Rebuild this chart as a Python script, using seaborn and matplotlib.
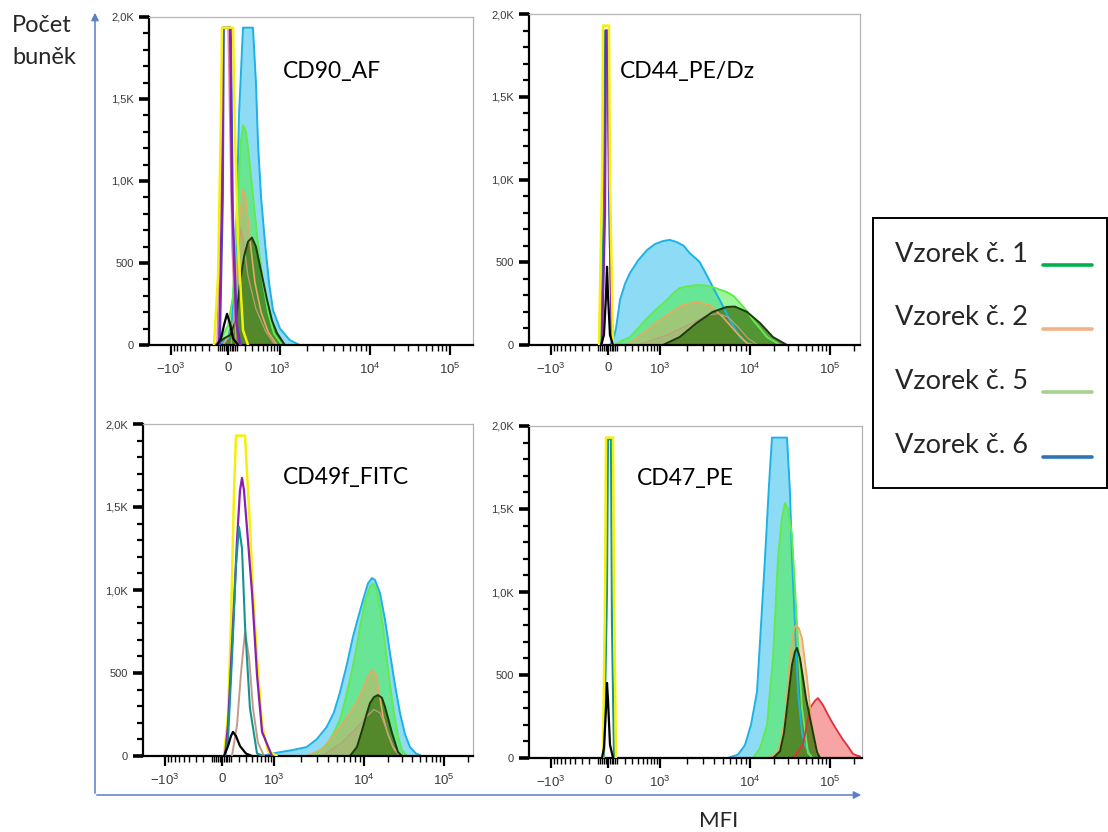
import numpy as np
import matplotlib
matplotlib.use("Agg")
import matplotlib.pyplot as plt
import seaborn as sns
from matplotlib.patches import Rectangle, FancyArrowPatch
from matplotlib.lines import Line2D
from matplotlib.ticker import FixedLocator, FixedFormatter

# ------------------------------------------------------------------ data
PANEL_TITLES = ["CD90_AF", "CD44_PE/Dz", "CD49f_FITC", "CD47_PE"]
LEGEND_LABELS = ["Vzorek č. 1", "Vzorek č. 2", "Vzorek č. 5", "Vzorek č. 6"]
LEGEND_COLORS = ["#00b050", "#f4b183", "#a9d18e", "#2e75b6"]
Y_LABEL = ["Počet", "buněk"]
X_LABEL = "MFI"
X_TICK_VALUES = [-1e3, 0, 1e3, 1e4, 1e5]
X_TICK_LABELS = [r"$\mathregular{-10^3}$", "0", r"$\mathregular{10^3}$",
                 r"$\mathregular{10^4}$", r"$\mathregular{10^5}$"]
Y_TICK_VALUES = [0, 500, 1000, 1500, 2000]
Y_TICK_LABELS = ["0", "500", "1,0K", "1,5K", "2,0K"]

# --- CD90_AF
CD90_YELLOW_X = [-147, -103, -71, -61, 56, 78, 113, 175, 242]
CD90_YELLOW_Y = [0, 415, 1430, 1935, 1935, 1300, 620, 90, 0]
CD90_PURPLE_X = [-92, -61, -51, 22, 44, 90, 137]
CD90_PURPLE_Y = [0, 900, 1935, 1935, 900, 150, 0]
CD90_BLUE_X = [-82, -51, -41, 33, 56, 101, 150]
CD90_BLUE_Y = [0, 900, 1935, 1935, 800, 120, 0]
CD90_PINK_X = [-114, -71, -61, 0, 44, 90]
CD90_PINK_Y = [0, 1000, 1935, 1935, 600, 0]
CD90_BLACK_X = [-114, -71, -41, -10, 22, 56, 113]
CD90_BLACK_Y = [0, 40, 120, 190, 130, 40, 0]
CD90_S6_X = [-103, 0, 44, 90, 125, 175, 317, 367, 404, 464, 550, 649, 760, 1000, 1292, 1668]
CD90_S6_Y = [0, 40, 150, 600, 1400, 1935, 1935, 1600, 1232, 900, 622, 380, 213, 100, 30, 0]
CD90_S5_X = [-136, -51, 0, 56, 101, 150, 175, 214, 256, 333, 404, 505, 624, 790, 1052]
CD90_S5_Y = [0, 60, 120, 300, 800, 1250, 1340, 1300, 1150, 850, 620, 380, 200, 70, 0]
CD90_S2_X = [-51, 56, 101, 137, 175, 214, 271, 350, 464, 624, 890]
CD90_S2_Y = [0, 100, 450, 800, 950, 880, 640, 380, 200, 80, 0]
CD90_TAN_X = [33, 90, 125, 150, 175, 242, 367, 570, 824]
CD90_TAN_Y = [0, 250, 600, 715, 650, 420, 220, 80, 0]
CD90_S1_X = [-125, -41, 22, 90, 137, 188, 242, 301, 367, 464, 599, 731, 890, 1137]
CD90_S1_Y = [0, 40, 60, 150, 380, 540, 630, 655, 600, 450, 275, 150, 73, 0]

# --- CD44_PE/Dz
CD44_YELLOW_X = [-92, -61, -51, 11, 22, 56]
CD44_YELLOW_Y = [0, 1000, 1930, 1930, 1000, 0]
CD44_TEAL_X = [-71, -41, -30, -10, 11, 44]
CD44_TEAL_Y = [0, 900, 1900, 1900, 900, 0]
CD44_PURPLE_X = [-61, -30, -20, 0, 22, 44]
CD44_PURPLE_Y = [0, 800, 1900, 1900, 600, 0]
CD44_BLACK_X = [-71, -41, -20, -10, 0, 22, 56]
CD44_BLACK_Y = [0, 60, 300, 473, 300, 60, 0]
CD44_S6_X = [22, 56, 90, 137, 201, 271, 404, 599, 824, 1080, 1292, 1545, 1848, 2154, 2783,
             3415, 3981, 4642, 5995, 7743, 10000]
CD44_S6_Y = [0, 30, 100, 272, 370, 435, 510, 574, 610, 628, 635, 622, 600, 556, 502,
             411, 340, 272, 151, 48, 0]
CD44_S5_X = [67, 137, 271, 404, 599, 890, 1196, 1431, 1668, 2047, 2577, 3162, 3880, 4642,
             5550, 6640, 7743, 9270, 10900, 13340, 16320, 23710]
CD44_S5_Y = [0, 20, 48, 100, 163, 220, 272, 315, 344, 355, 362, 360, 350, 335,
             320, 295, 254, 205, 151, 100, 48, 0]
CD44_S2_X = [113, 271, 599, 1196, 1800, 2577, 3594, 5012, 7170, 9270, 11890]
CD44_S2_Y = [0, 10, 91, 181, 242, 260, 242, 169, 73, 10, 0]
CD44_TAN_X = [404, 1196, 2047, 3415, 4410, 5690, 7356, 9500, 12590]
CD44_TAN_Y = [0, 60, 120, 180, 190, 170, 110, 40, 0]
CD44_S1_X = [1080, 1668, 2577, 3880, 5550, 6812, 9270, 13340, 19400, 29000]
CD44_S1_Y = [0, 48, 133, 200, 230, 232, 200, 133, 48, 0]

# --- CD49f_FITC
CD49_YELLOW_X = [22, 67, 101, 137, 162, 286, 367, 423, 505, 624, 790, 1080]
CD49_YELLOW_Y = [0, 250, 790, 1590, 1930, 1930, 1390, 990, 590, 187, 30, 0]
CD49_PURPLE_X = [33, 67, 125, 175, 214, 242, 271, 333, 404, 505, 624, 925]
CD49_PURPLE_Y = [0, 187, 790, 1300, 1600, 1675, 1600, 1300, 988, 488, 145, 0]
CD49_TEAL_X = [33, 67, 113, 162, 201, 242, 286, 367, 505, 676]
CD49_TEAL_Y = [0, 100, 590, 1150, 1380, 1250, 790, 289, 15, 0]
CD49_ROSE_X = [113, 175, 228, 286, 350, 423, 525, 676]
CD49_ROSE_Y = [0, 187, 500, 747, 600, 289, 80, 0]
CD49_BLACK_X = [22, 67, 101, 125, 162, 214, 301, 404]
CD49_BLACK_Y = [0, 60, 120, 145, 120, 60, 15, 0]
CD49_S6_X = [624, 1080, 1585, 2328, 3003, 3880, 4642, 5412, 6470, 7550, 8580, 9760, 11220,
             12590, 13730, 15850, 18320, 21130, 24370, 28180, 32580, 37580, 44670, 53100]
CD49_S6_Y = [0, 20, 35, 54, 100, 175, 260, 380, 550, 717, 830, 940, 1040,
             1072, 1060, 982, 820, 620, 430, 259, 130, 54, 15, 0]
CD49_S5_X = [2712, 3880, 4642, 5412, 6150, 6988, 7943, 9030, 10290, 11890, 12960, 14540,
             15850, 17300, 19950, 23050, 26600, 29850, 34500]
CD49_S5_Y = [0, 66, 140, 217, 330, 458, 600, 777, 930, 1020, 1040, 1000,
             900, 777, 520, 295, 120, 36, 0]
CD49_S2_X = [2328, 3415, 4190, 5012, 5840, 6988, 8580, 10000, 11220, 12590, 14130, 15850,
             17300, 19950, 23050, 26600, 30730]
CD49_S2_Y = [0, 40, 96, 150, 199, 260, 337, 420, 480, 518, 490, 350,
             235, 130, 54, 15, 0]
CD49_TAN_X = [3415, 5690, 8360, 10900, 13340, 15850, 19400, 23710, 28180]
CD49_TAN_Y = [0, 80, 170, 240, 280, 260, 150, 40, 0]
CD49_S1_X = [6988, 8360, 9760, 10900, 11890, 13340, 14960, 16790, 18320, 19950, 22390, 26600, 29850]
CD49_S1_Y = [0, 54, 175, 260, 319, 355, 367, 350, 295, 230, 139, 24, 0]

# --- CD47_PE
CD47_YELLOW_X = [-51, -30, -20, 56, 67, 90]
CD47_YELLOW_Y = [0, 1000, 1930, 1930, 1000, 0]
CD47_TEAL_X = [-41, -10, 0, 33, 44, 67]
CD47_TEAL_Y = [0, 1000, 1920, 1920, 800, 0]
CD47_BLACK_X = [-61, -41, -20, -10, 0, 22, 56]
CD47_BLACK_Y = [0, 60, 300, 452, 350, 80, 0]
CD47_S6_X = [5690, 7360, 8800, 10290, 12230, 13730, 15400, 17300, 18840, 29000, 31620, 33500,
             36520, 39800, 44670, 48700, 59600]
CD47_S6_Y = [0, 20, 78, 200, 398, 800, 1205, 1650, 1930, 1930, 1600, 1205,
             800, 398, 150, 78, 0]
CD47_S5_X = [10900, 13340, 16320, 19400, 22390, 25120, 27380, 29850, 33500, 38680, 44670, 53100, 61300]
CD47_S5_Y = [0, 60, 199, 602, 1205, 1450, 1536, 1500, 1343, 801, 301, 30, 0]
CD47_S2_X = [16790, 21750, 24370, 27380, 31620, 35480, 37580, 40970, 44670, 51600, 59600, 68700, 79400]
CD47_S2_Y = [0, 30, 100, 241, 602, 780, 801, 780, 723, 482, 199, 30, 0]
CD47_S1_X = [19400, 23710, 26600, 29000, 33500, 36520, 38680, 42170, 46000, 50120, 56200, 68700, 75000]
CD47_S1_Y = [0, 40, 150, 301, 560, 640, 663, 600, 482, 360, 241, 36, 0]
CD47_RED_X = [34500, 46000, 56200, 64940, 70800, 81700, 94400, 105900, 125900, 145400,
              163100, 193900, 217500, 237100]
CD47_RED_Y = [0, 80, 301, 345, 361, 319, 260, 217, 157, 110, 78, 25, 15, 10]

# ------------------------------------------------------------------ styles
FILL_STYLES = {
    "S6": dict(face="#1fb8ec", edge="#1cb2e6", alpha=0.50, lw=1.4),
    "S5": dict(face="#4cee48", edge="#62ea4e", alpha=0.55, lw=1.4),
    "S2": dict(face="#e8a050", edge="#eaa860", alpha=0.42, lw=1.2),
    "TAN": dict(face="#b89870", edge="#b8a080", alpha=0.25, lw=0.9),
    "S1": dict(face="#3d7a16", edge="#1c3a0c", alpha=0.78, lw=1.4),
    "RED": dict(face="#f25a5a", edge="#e0303c", alpha=0.55, lw=1.3),
}
LINE_STYLES = {
    "PINK": dict(color="#e08aa8", lw=1.0),
    "ROSE": dict(color="#c49a8c", lw=1.4),
    "BLUE": dict(color="#3f55c0", lw=1.3),
    "TEAL": dict(color="#14948e", lw=1.5),
    "PURPLE": dict(color="#8a1fb4", lw=1.6),
    "YELLOW": dict(color="#f4f00a", lw=1.8),
    "BLACK": dict(color="#000000", lw=1.6),
}

PANELS = [
    dict(title=PANEL_TITLES[0], zero_px=228, top_px=17, bot_px=345, right_rel=245,
         title_px=(283, 78),
         fills=[("S6", CD90_S6_X, CD90_S6_Y), ("S5", CD90_S5_X, CD90_S5_Y),
                ("S2", CD90_S2_X, CD90_S2_Y), ("TAN", CD90_TAN_X, CD90_TAN_Y),
                ("S1", CD90_S1_X, CD90_S1_Y)],
         lines=[("PINK", CD90_PINK_X, CD90_PINK_Y), ("BLUE", CD90_BLUE_X, CD90_BLUE_Y),
                ("PURPLE", CD90_PURPLE_X, CD90_PURPLE_Y), ("YELLOW", CD90_YELLOW_X, CD90_YELLOW_Y),
                ("BLACK", CD90_BLACK_X, CD90_BLACK_Y)]),
    dict(title=PANEL_TITLES[1], zero_px=608, top_px=14, bot_px=345, right_rel=252,
         title_px=(620, 78),
         fills=[("S6", CD44_S6_X, CD44_S6_Y), ("S5", CD44_S5_X, CD44_S5_Y),
                ("S2", CD44_S2_X, CD44_S2_Y), ("TAN", CD44_TAN_X, CD44_TAN_Y),
                ("S1", CD44_S1_X, CD44_S1_Y)],
         lines=[("TEAL", CD44_TEAL_X, CD44_TEAL_Y), ("PURPLE", CD44_PURPLE_X, CD44_PURPLE_Y),
                ("YELLOW", CD44_YELLOW_X, CD44_YELLOW_Y), ("BLACK", CD44_BLACK_X, CD44_BLACK_Y)]),
    dict(title=PANEL_TITLES[2], zero_px=222, top_px=424, bot_px=756, right_rel=251,
         title_px=(283, 484),
         fills=[("S6", CD49_S6_X, CD49_S6_Y), ("S5", CD49_S5_X, CD49_S5_Y),
                ("S2", CD49_S2_X, CD49_S2_Y), ("TAN", CD49_TAN_X, CD49_TAN_Y),
                ("S1", CD49_S1_X, CD49_S1_Y)],
         lines=[("YELLOW", CD49_YELLOW_X, CD49_YELLOW_Y), ("ROSE", CD49_ROSE_X, CD49_ROSE_Y),
                ("PURPLE", CD49_PURPLE_X, CD49_PURPLE_Y), ("TEAL", CD49_TEAL_X, CD49_TEAL_Y),
                ("BLACK", CD49_BLACK_X, CD49_BLACK_Y)]),
    dict(title=PANEL_TITLES[3], zero_px=608, top_px=426, bot_px=758, right_rel=254,
         title_px=(637, 485),
         fills=[("S6", CD47_S6_X, CD47_S6_Y), ("S5", CD47_S5_X, CD47_S5_Y),
                ("RED", CD47_RED_X, CD47_RED_Y), ("S2", CD47_S2_X, CD47_S2_Y),
                ("S1", CD47_S1_X, CD47_S1_Y)],
         lines=[("TEAL", CD47_TEAL_X, CD47_TEAL_Y), ("YELLOW", CD47_YELLOW_X, CD47_YELLOW_Y),
                ("BLACK", CD47_BLACK_X, CD47_BLACK_Y)]),
]

# ------------------------------------------------------------------ biexponential-like axis
W = 300.0
KX = np.array([-1e5, -1e4, -1e3, 0.0, 1e3, 1e4, 1e5, 1e6])
KP = np.array([-225.0, -145.0, -57.0, 0.0, 52.0, 142.0, 222.0, 302.0])
KU = np.arcsinh(KX / W)


def fwd(x):
    return np.interp(np.arcsinh(np.asarray(x, dtype=float) / W), KU, KP)


def inv(p):
    return W * np.sinh(np.interp(np.asarray(p, dtype=float), KP, KU))


MINOR_POS = [m * 10 ** e for e in range(1, 5) for m in range(1, 10)
             if not (m == 1 and e >= 3) and not (e == 1 and m % 2 == 1)] + [2e5]
MINOR_NEG = [-m * 10 ** e for e in range(1, 3) for m in range(1, 10) if not (e == 1 and m % 2 == 1)]
MINOR_TICKS = sorted(MINOR_NEG + MINOR_POS)

# ------------------------------------------------------------------ figure
sns.set_theme(style="white")
plt.rcParams["font.family"] = ["Lato", "DejaVu Sans"]
plt.rcParams["mathtext.fontset"] = "custom"
plt.rcParams["mathtext.rm"] = "Liberation Sans"

FW, FH = 1108, 832
fig = plt.figure(figsize=(FW / 100, FH / 100), dpi=100)
fig.patch.set_facecolor("white")


def fx(px):
    return px / FW


def fy(py):
    return 1 - py / FH


for p in PANELS:
    left = p["zero_px"] - 79
    width = 79 + p["right_rel"]
    ax = fig.add_axes([fx(left), fy(p["bot_px"]), width / FW, (p["bot_px"] - p["top_px"]) / FH])
    ax.set_xscale("function", functions=(fwd, inv))
    ax.set_facecolor("white")

    for key, xs, ys in p["fills"]:
        st = FILL_STYLES[key]
        ax.fill_between(xs, ys, 0, color=st["face"], alpha=st["alpha"], lw=0, zorder=2)
        sns.lineplot(x=xs, y=ys, ax=ax, color=st["edge"], lw=st["lw"], sort=False,
                     estimator=None, legend=False, zorder=2.5)
    for key, xs, ys in p["lines"]:
        st = LINE_STYLES[key]
        sns.lineplot(x=xs, y=ys, ax=ax, color=st["color"], lw=st["lw"], sort=False,
                     estimator=None, legend=False, zorder=3)

    ax.set_xlim(float(inv(-79)), float(inv(p["right_rel"])))
    ax.set_ylim(0, 2000)

    ax.xaxis.set_major_locator(FixedLocator(X_TICK_VALUES))
    ax.xaxis.set_major_formatter(FixedFormatter(X_TICK_LABELS))
    ax.xaxis.set_minor_locator(FixedLocator(MINOR_TICKS))
    ax.yaxis.set_major_locator(FixedLocator(Y_TICK_VALUES))
    ax.yaxis.set_major_formatter(FixedFormatter(Y_TICK_LABELS))
    ax.yaxis.set_minor_locator(FixedLocator(list(range(100, 2000, 100))))

    ax.tick_params(axis="x", which="major", direction="out", length=7, width=1.6,
                   color="black", pad=5, labelcolor="#3a3a3a", bottom=True,
                   labelsize=9.5, labelfontfamily="Liberation Sans")
    ax.tick_params(axis="x", which="minor", direction="out", length=4.5, width=1.0,
                   color="black", bottom=True)
    ax.tick_params(axis="y", which="major", direction="out", length=7, width=2.6,
                   color="black", pad=4, labelcolor="#3a3a3a", left=True,
                   labelsize=8, labelfontfamily="Liberation Sans")
    ax.tick_params(axis="y", which="minor", direction="out", length=4, width=1.6,
                   color="black", left=True)

    for side in ("top", "right"):
        ax.spines[side].set_color("#b4b4b4")
        ax.spines[side].set_linewidth(0.9)
    for side in ("left", "bottom"):
        ax.spines[side].set_color("black")
        ax.spines[side].set_linewidth(1.6)
    ax.set_xlabel("")
    ax.set_ylabel("")

    fig.text(fx(p["title_px"][0]), fy(p["title_px"][1]), p["title"], fontsize=16.5,
             ha="left", va="baseline", color="black")

# axis arrows
ARROW_COLOR = "#5a80c6"
fig.add_artist(FancyArrowPatch((fx(95), fy(796)), (fx(95), fy(10)), transform=fig.transFigure,
                               arrowstyle="-|>", mutation_scale=11, color=ARROW_COLOR, lw=1.1))
fig.add_artist(FancyArrowPatch((fx(94), fy(795)), (fx(864), fy(795)), transform=fig.transFigure,
                               arrowstyle="-|>", mutation_scale=11, color=ARROW_COLOR, lw=1.1))

# axis labels
fig.text(fx(12), fy(32), Y_LABEL[0], fontsize=17, ha="left", va="baseline")
fig.text(fx(12), fy(64), Y_LABEL[1], fontsize=17, ha="left", va="baseline")
fig.text(fx(719), fy(821), X_LABEL, fontsize=16, ha="center", va="center")

# legend box
fig.add_artist(Rectangle((fx(873), fy(488)), (1107 - 873) / FW, (488 - 218) / FH,
                         transform=fig.transFigure, fill=False, edgecolor="black", lw=1.4))
LEG_BASE = [262, 325, 389, 453]
LEG_LINE = [265, 329, 392, 457]
for lab, col, yb, yl in zip(LEGEND_LABELS, LEGEND_COLORS, LEG_BASE, LEG_LINE):
    fig.text(fx(895), fy(yb), lab, fontsize=19.5, ha="left", va="baseline")
    fig.add_artist(Line2D([fx(1043), fx(1092)], [fy(yl), fy(yl)], transform=fig.transFigure,
                          color=col, lw=2.6))

fig.savefig("out.png", dpi=100, facecolor="white")
